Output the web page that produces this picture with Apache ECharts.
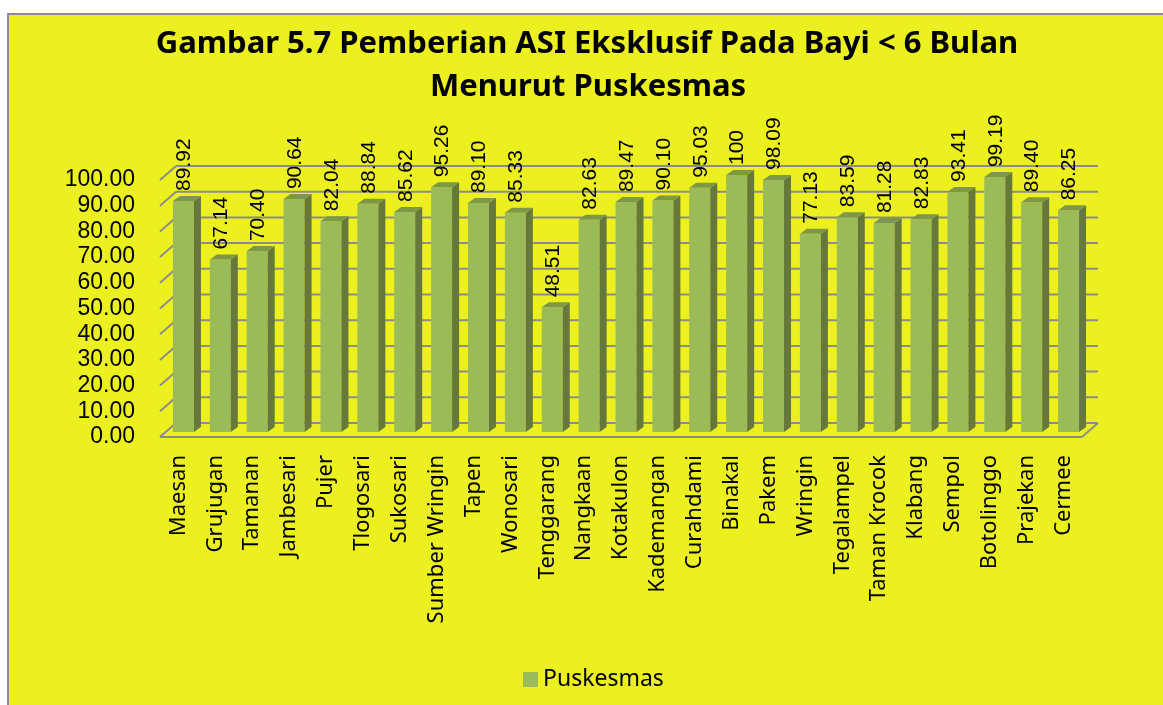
<!DOCTYPE html>
<html>
<head>
<meta charset="utf-8">
<title>Gambar 5.7</title>
<script src="https://cdn.jsdelivr.net/npm/echarts@6/dist/echarts.min.js"></script>
<style>
  html, body { margin: 0; padding: 0; background: #fff; }
</style>
</head>
<body>
<div id="main" style="width:1163px;height:705px"></div>
<script>
// Pemberian ASI Eksklusif per Puskesmas
const categories = ['Maesan', 'Grujugan', 'Tamanan', 'Jambesari', 'Pujer', 'Tlogosari', 'Sukosari',
  'Sumber Wringin', 'Tapen', 'Wonosari', 'Tenggarang', 'Nangkaan', 'Kotakulon', 'Kademangan',
  'Curahdami', 'Binakal', 'Pakem', 'Wringin', 'Tegalampel', 'Taman Krocok', 'Klabang', 'Sempol',
  'Botolinggo', 'Prajekan', 'Cermee']
const values = [89.92, 67.14, 70.40, 90.64, 82.04, 88.84, 85.62, 95.26, 89.10, 85.33, 48.51, 82.63,
  89.47, 90.10, 95.03, 100, 98.09, 77.13, 83.59, 81.28, 82.83, 93.41, 99.19, 89.40, 86.25]
const valueLabels = ['89.92', '67.14', '70.40', '90.64', '82.04', '88.84', '85.62', '95.26', '89.10',
  '85.33', '48.51', '82.63', '89.47', '90.10', '95.03', '100', '98.09', '77.13', '83.59', '81.28',
  '82.83', '93.41', '99.19', '89.40', '86.25']
const yTicks = [0, 10, 20, 30, 40, 50, 60, 70, 80, 90, 100]

const DX = 16, DY = -14 // kedalaman dinding belakang
const BX = 5, BY = -5 // posisi batang di tengah kedalaman
const SX = 7, SY = -5 // sisi batang
const BAR_W = 21
const LINE = '#8C8C8C'

function renderGrid(params, api) {
  const v = api.value(1)
  const half = api.size([1, 0])[0] / 2
  const p0 = api.coord([0, v])
  const p1 = api.coord([categories.length - 1, v])
  const x0 = p0[0] - half, x1 = p1[0] + half, y = p0[1]
  const st = { stroke: LINE, lineWidth: 2 }
  const children = [
    { type: 'line', shape: { x1: x0 + DX, y1: y + DY, x2: x1 + DX, y2: y + DY }, style: st },
    { type: 'line', shape: { x1: x0, y1: y, x2: x0 + DX, y2: y + DY }, style: st }
  ]
  if (v === 0) {
    children.push({ type: 'line', shape: { x1: x0, y1: y, x2: x1, y2: y }, style: st })
    children.push({ type: 'line', shape: { x1: x1, y1: y, x2: x1 + DX, y2: y + DY }, style: st })
  }
  return { type: 'group', children }
}

function renderBar(params, api) {
  const i = api.value(0)
  const c = api.coord([i, api.value(1)])
  const b = api.coord([i, 0])
  const cx = c[0] + BX
  const top = c[1] + BY
  const bottom = b[1] + BY
  const l = cx - BAR_W / 2, r = cx + BAR_W / 2
  return {
    type: 'group',
    children: [
      { type: 'rect', shape: { x: l, y: top, width: BAR_W, height: bottom - top }, style: { fill: '#9BBB59' } },
      { type: 'polygon', shape: { points: [[r, top], [r + SX, top + SY], [r + SX, bottom + SY], [r, bottom]] }, style: { fill: '#66793A' } },
      { type: 'polygon', shape: { points: [[l, top], [l + SX, top + SY], [r + SX, top + SY], [r, top]] }, style: { fill: '#7E9845' } },
      {
        type: 'text', x: cx + 1, y: top - 10, rotation: Math.PI / 2,
        style: { text: valueLabels[i], fill: '#000', font: '21px "Liberation Sans"', align: 'left', verticalAlign: 'middle' }
      }
    ]
  }
}

const chart = echarts.init(document.getElementById('main'))
chart.setOption({
  backgroundColor: '#ffffff',
  animation: false,
  graphic: [
    { type: 'rect', z: -10, shape: { x: 8, y: 14, width: 1170, height: 700 }, style: { fill: '#ECF01F', stroke: '#8C8C8C', lineWidth: 2 } },
    { type: 'text', x: 587, y: 44, style: { text: 'Gambar 5.7 Pemberian ASI Eksklusif Pada Bayi < 6 Bulan', font: 'bold 31px "Noto Sans"', fill: '#000', align: 'center', verticalAlign: 'middle' } },
    { type: 'text', x: 588, y: 87, style: { text: 'Menurut Puskesmas', font: 'bold 31px "Noto Sans"', fill: '#000', align: 'center', verticalAlign: 'middle' } }
  ],
  legend: {
    data: [{ name: 'Puskesmas', icon: 'rect' }],
    left: 523, top: 668, padding: 0,
    itemWidth: 15, itemHeight: 15,
    textStyle: { fontFamily: 'Noto Sans', fontSize: 23, color: '#000' }
  },
  grid: { left: 160, right: 81, top: 180, bottom: 268 },
  xAxis: {
    type: 'category',
    data: categories,
    axisLine: { show: false },
    axisTick: { show: false },
    axisLabel: { rotate: 90, margin: 18, interval: 0, fontFamily: 'Noto Sans', fontSize: 22, color: '#000' }
  },
  yAxis: {
    type: 'value', min: 0, max: 100, interval: 10,
    splitLine: { show: false },
    axisLine: { show: false },
    axisTick: { show: false },
    axisLabel: { margin: 25, fontFamily: 'Liberation Sans', fontSize: 23, color: '#000', formatter: v => v.toFixed(2) }
  },
  series: [
    {
      type: 'custom', z: 1, silent: true, clip: false,
      renderItem: renderGrid,
      data: yTicks.map(v => [0, v])
    },
    {
      name: 'Puskesmas', type: 'custom', z: 3, clip: false,
      itemStyle: { color: '#9BBB59' },
      renderItem: renderBar,
      data: values.map((v, i) => [i, v])
    }
  ]
})
</script>
</body>
</html>
